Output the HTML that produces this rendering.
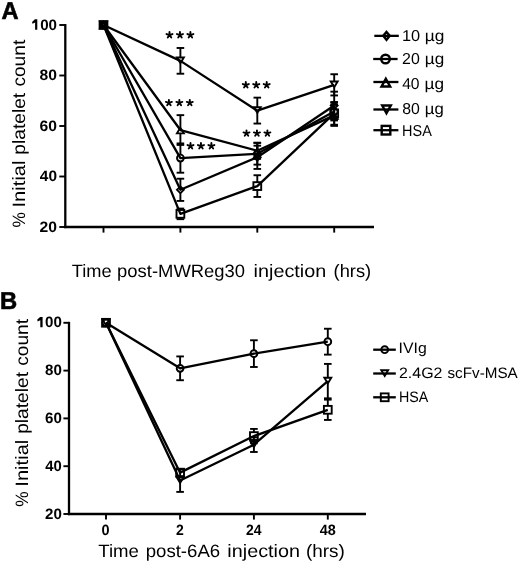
<!DOCTYPE html>
<html><head><meta charset="utf-8"><title>Platelet count chart</title>
<style>html,body{margin:0;padding:0;background:#fff;}body{width:520px;height:563px;overflow:hidden;}svg{display:block;will-change:transform;}text{font-family:"Liberation Sans",sans-serif;text-rendering:geometricPrecision;}</style>
</head><body>
<svg width="520" height="563" viewBox="0 0 520 563">
<rect width="520" height="563" fill="#fff"/>
<g stroke="#000" fill="none" stroke-linecap="butt">
<line x1="65.30" y1="24.05" x2="65.30" y2="228.15" stroke-width="2.3"/>
<line x1="64.15" y1="227.00" x2="374.00" y2="227.00" stroke-width="2.3"/>
<line x1="59.30" y1="25.00" x2="65.30" y2="25.00" stroke-width="1.9"/>
<line x1="59.30" y1="75.50" x2="65.30" y2="75.50" stroke-width="1.9"/>
<line x1="59.30" y1="126.00" x2="65.30" y2="126.00" stroke-width="1.9"/>
<line x1="59.30" y1="176.50" x2="65.30" y2="176.50" stroke-width="1.9"/>
<line x1="59.30" y1="227.00" x2="65.30" y2="227.00" stroke-width="1.9"/>
<line x1="103.50" y1="227.00" x2="103.50" y2="232.60" stroke-width="1.9"/>
<line x1="180.40" y1="227.00" x2="180.40" y2="232.60" stroke-width="1.9"/>
<line x1="257.30" y1="227.00" x2="257.30" y2="232.60" stroke-width="1.9"/>
<line x1="334.20" y1="227.00" x2="334.20" y2="232.60" stroke-width="1.9"/>
<line x1="69.00" y1="321.85" x2="69.00" y2="515.15" stroke-width="2.3"/>
<line x1="67.85" y1="514.00" x2="366.00" y2="514.00" stroke-width="2.3"/>
<line x1="63.40" y1="322.80" x2="69.00" y2="322.80" stroke-width="1.9"/>
<line x1="63.40" y1="370.60" x2="69.00" y2="370.60" stroke-width="1.9"/>
<line x1="63.40" y1="418.40" x2="69.00" y2="418.40" stroke-width="1.9"/>
<line x1="63.40" y1="466.20" x2="69.00" y2="466.20" stroke-width="1.9"/>
<line x1="63.40" y1="514.00" x2="69.00" y2="514.00" stroke-width="1.9"/>
<line x1="106.00" y1="514.00" x2="106.00" y2="519.60" stroke-width="1.9"/>
<line x1="180.10" y1="514.00" x2="180.10" y2="519.60" stroke-width="1.9"/>
<line x1="253.90" y1="514.00" x2="253.90" y2="519.60" stroke-width="1.9"/>
<line x1="327.80" y1="514.00" x2="327.80" y2="519.60" stroke-width="1.9"/>
<polyline points="103.50,25.00 180.40,189.81 257.30,157.31 334.20,105.55" fill="none" stroke-width="2.3" stroke-linejoin="round"/>
<polyline points="103.50,25.00 180.40,158.07 257.30,153.78 334.20,111.61" fill="none" stroke-width="2.3" stroke-linejoin="round"/>
<polyline points="103.50,25.00 180.40,130.04 257.30,150.75 334.20,115.39" fill="none" stroke-width="2.3" stroke-linejoin="round"/>
<polyline points="103.50,25.00 180.40,60.86 257.30,110.60 334.20,84.84" fill="none" stroke-width="2.3" stroke-linejoin="round"/>
<polyline points="103.50,25.00 180.40,213.87 257.30,186.09 334.20,113.38" fill="none" stroke-width="2.3" stroke-linejoin="round"/>
<line x1="180.40" y1="178.70" x2="180.40" y2="186.51" stroke-width="1.9"/>
<line x1="180.40" y1="193.11" x2="180.40" y2="200.92" stroke-width="1.9"/>
<line x1="176.60" y1="178.70" x2="184.20" y2="178.70" stroke-width="1.9"/>
<line x1="176.60" y1="200.92" x2="184.20" y2="200.92" stroke-width="1.9"/>
<line x1="257.30" y1="145.69" x2="257.30" y2="154.01" stroke-width="1.9"/>
<line x1="257.30" y1="160.61" x2="257.30" y2="168.93" stroke-width="1.9"/>
<line x1="253.50" y1="145.69" x2="261.10" y2="145.69" stroke-width="1.9"/>
<line x1="253.50" y1="168.93" x2="261.10" y2="168.93" stroke-width="1.9"/>
<line x1="334.20" y1="91.66" x2="334.20" y2="102.25" stroke-width="1.9"/>
<line x1="334.20" y1="108.85" x2="334.20" y2="119.44" stroke-width="1.9"/>
<line x1="330.40" y1="91.66" x2="338.00" y2="91.66" stroke-width="1.9"/>
<line x1="330.40" y1="119.44" x2="338.00" y2="119.44" stroke-width="1.9"/>
<line x1="180.40" y1="143.42" x2="180.40" y2="154.67" stroke-width="1.9"/>
<line x1="180.40" y1="161.47" x2="180.40" y2="172.71" stroke-width="1.9"/>
<line x1="176.60" y1="143.42" x2="184.20" y2="143.42" stroke-width="1.9"/>
<line x1="176.60" y1="172.71" x2="184.20" y2="172.71" stroke-width="1.9"/>
<line x1="257.30" y1="142.92" x2="257.30" y2="150.38" stroke-width="1.9"/>
<line x1="257.30" y1="157.18" x2="257.30" y2="164.63" stroke-width="1.9"/>
<line x1="253.50" y1="142.92" x2="261.10" y2="142.92" stroke-width="1.9"/>
<line x1="253.50" y1="164.63" x2="261.10" y2="164.63" stroke-width="1.9"/>
<line x1="334.20" y1="102.77" x2="334.20" y2="108.21" stroke-width="1.9"/>
<line x1="334.20" y1="115.01" x2="334.20" y2="120.45" stroke-width="1.9"/>
<line x1="330.40" y1="102.77" x2="338.00" y2="102.77" stroke-width="1.9"/>
<line x1="330.40" y1="120.45" x2="338.00" y2="120.45" stroke-width="1.9"/>
<line x1="180.40" y1="115.14" x2="180.40" y2="127.64" stroke-width="1.9"/>
<line x1="180.40" y1="133.34" x2="180.40" y2="144.94" stroke-width="1.9"/>
<line x1="176.60" y1="115.14" x2="184.20" y2="115.14" stroke-width="1.9"/>
<line x1="176.60" y1="144.94" x2="184.20" y2="144.94" stroke-width="1.9"/>
<line x1="257.30" y1="142.66" x2="257.30" y2="148.34" stroke-width="1.9"/>
<line x1="257.30" y1="154.05" x2="257.30" y2="158.83" stroke-width="1.9"/>
<line x1="253.50" y1="142.66" x2="261.10" y2="142.66" stroke-width="1.9"/>
<line x1="253.50" y1="158.83" x2="261.10" y2="158.83" stroke-width="1.9"/>
<line x1="334.20" y1="104.89" x2="334.20" y2="112.99" stroke-width="1.9"/>
<line x1="334.20" y1="118.69" x2="334.20" y2="125.90" stroke-width="1.9"/>
<line x1="330.40" y1="104.89" x2="338.00" y2="104.89" stroke-width="1.9"/>
<line x1="330.40" y1="125.90" x2="338.00" y2="125.90" stroke-width="1.9"/>
<line x1="180.40" y1="47.98" x2="180.40" y2="57.56" stroke-width="1.9"/>
<line x1="180.40" y1="63.26" x2="180.40" y2="73.73" stroke-width="1.9"/>
<line x1="176.60" y1="47.98" x2="184.20" y2="47.98" stroke-width="1.9"/>
<line x1="176.60" y1="73.73" x2="184.20" y2="73.73" stroke-width="1.9"/>
<line x1="257.30" y1="97.64" x2="257.30" y2="107.30" stroke-width="1.9"/>
<line x1="257.30" y1="113.00" x2="257.30" y2="123.55" stroke-width="1.9"/>
<line x1="253.50" y1="97.64" x2="261.10" y2="97.64" stroke-width="1.9"/>
<line x1="253.50" y1="123.55" x2="261.10" y2="123.55" stroke-width="1.9"/>
<line x1="334.20" y1="74.24" x2="334.20" y2="81.54" stroke-width="1.9"/>
<line x1="334.20" y1="87.24" x2="334.20" y2="95.45" stroke-width="1.9"/>
<line x1="330.40" y1="74.24" x2="338.00" y2="74.24" stroke-width="1.9"/>
<line x1="330.40" y1="95.45" x2="338.00" y2="95.45" stroke-width="1.9"/>
<line x1="180.40" y1="208.57" x2="180.40" y2="209.97" stroke-width="1.9"/>
<line x1="180.40" y1="217.77" x2="180.40" y2="219.17" stroke-width="1.9"/>
<line x1="176.60" y1="208.57" x2="184.20" y2="208.57" stroke-width="1.9"/>
<line x1="176.60" y1="219.17" x2="184.20" y2="219.17" stroke-width="1.9"/>
<line x1="257.30" y1="175.24" x2="257.30" y2="182.19" stroke-width="1.9"/>
<line x1="257.30" y1="190.00" x2="257.30" y2="196.95" stroke-width="1.9"/>
<line x1="253.50" y1="175.24" x2="261.10" y2="175.24" stroke-width="1.9"/>
<line x1="253.50" y1="196.95" x2="261.10" y2="196.95" stroke-width="1.9"/>
<line x1="334.20" y1="102.01" x2="334.20" y2="109.47" stroke-width="1.9"/>
<line x1="334.20" y1="117.28" x2="334.20" y2="124.74" stroke-width="1.9"/>
<line x1="330.40" y1="102.01" x2="338.00" y2="102.01" stroke-width="1.9"/>
<line x1="330.40" y1="124.74" x2="338.00" y2="124.74" stroke-width="1.9"/>
<polygon points="103.50,21.70 106.90,25.00 103.50,28.30 100.10,25.00" fill="none" stroke-width="1.9"/>
<polygon points="180.40,186.51 183.80,189.81 180.40,193.11 177.00,189.81" fill="none" stroke-width="1.9"/>
<polygon points="257.30,154.01 260.70,157.31 257.30,160.61 253.90,157.31" fill="none" stroke-width="1.9"/>
<polygon points="334.20,102.25 337.60,105.55 334.20,108.85 330.80,105.55" fill="none" stroke-width="1.9"/>
<circle cx="103.50" cy="25.00" r="3.40" fill="none" stroke-width="1.9"/>
<circle cx="180.40" cy="158.07" r="3.40" fill="none" stroke-width="1.9"/>
<circle cx="257.30" cy="153.78" r="3.40" fill="none" stroke-width="1.9"/>
<circle cx="334.20" cy="111.61" r="3.40" fill="none" stroke-width="1.9"/>
<polygon points="103.50,22.59 106.94,28.30 100.06,28.30" fill="none" stroke-width="1.9"/>
<polygon points="180.40,127.63 183.84,133.34 176.96,133.34" fill="none" stroke-width="1.9"/>
<polygon points="257.30,148.34 260.74,154.05 253.86,154.05" fill="none" stroke-width="1.9"/>
<polygon points="334.20,112.98 337.64,118.69 330.76,118.69" fill="none" stroke-width="1.9"/>
<polygon points="103.50,27.41 106.94,21.70 100.06,21.70" fill="none" stroke-width="1.9"/>
<polygon points="180.40,63.27 183.84,57.56 176.96,57.56" fill="none" stroke-width="1.9"/>
<polygon points="257.30,113.01 260.74,107.30 253.86,107.30" fill="none" stroke-width="1.9"/>
<polygon points="334.20,87.25 337.64,81.54 330.76,81.54" fill="none" stroke-width="1.9"/>
<rect x="99.60" y="21.10" width="7.80" height="7.80" fill="none" stroke-width="1.9"/>
<rect x="176.50" y="209.97" width="7.80" height="7.80" fill="none" stroke-width="1.9"/>
<rect x="253.40" y="182.19" width="7.80" height="7.80" fill="none" stroke-width="1.9"/>
<rect x="330.30" y="109.47" width="7.80" height="7.80" fill="none" stroke-width="1.9"/>
</g><g fill="none" stroke="#000">
<path d="M169.50,35.00L169.50,32.05M169.50,35.00L172.50,34.05M169.50,35.00L166.50,34.05M169.50,35.00L171.25,37.45M169.50,35.00L167.75,37.45" stroke-width="1.9" stroke-linecap="round" fill="none"/>
<path d="M179.95,35.00L179.95,32.05M179.95,35.00L182.95,34.05M179.95,35.00L176.95,34.05M179.95,35.00L181.70,37.45M179.95,35.00L178.20,37.45" stroke-width="1.9" stroke-linecap="round" fill="none"/>
<path d="M190.40,35.00L190.40,32.05M190.40,35.00L193.40,34.05M190.40,35.00L187.40,34.05M190.40,35.00L192.15,37.45M190.40,35.00L188.65,37.45" stroke-width="1.9" stroke-linecap="round" fill="none"/>
<path d="M168.90,102.80L168.90,99.85M168.90,102.80L171.90,101.85M168.90,102.80L165.90,101.85M168.90,102.80L170.65,105.25M168.90,102.80L167.15,105.25" stroke-width="1.9" stroke-linecap="round" fill="none"/>
<path d="M179.35,102.80L179.35,99.85M179.35,102.80L182.35,101.85M179.35,102.80L176.35,101.85M179.35,102.80L181.10,105.25M179.35,102.80L177.60,105.25" stroke-width="1.9" stroke-linecap="round" fill="none"/>
<path d="M189.80,102.80L189.80,99.85M189.80,102.80L192.80,101.85M189.80,102.80L186.80,101.85M189.80,102.80L191.55,105.25M189.80,102.80L188.05,105.25" stroke-width="1.9" stroke-linecap="round" fill="none"/>
<path d="M190.50,146.00L190.50,143.05M190.50,146.00L193.50,145.05M190.50,146.00L187.50,145.05M190.50,146.00L192.25,148.45M190.50,146.00L188.75,148.45" stroke-width="1.9" stroke-linecap="round" fill="none"/>
<path d="M200.95,146.00L200.95,143.05M200.95,146.00L203.95,145.05M200.95,146.00L197.95,145.05M200.95,146.00L202.70,148.45M200.95,146.00L199.20,148.45" stroke-width="1.9" stroke-linecap="round" fill="none"/>
<path d="M211.40,146.00L211.40,143.05M211.40,146.00L214.40,145.05M211.40,146.00L208.40,145.05M211.40,146.00L213.15,148.45M211.40,146.00L209.65,148.45" stroke-width="1.9" stroke-linecap="round" fill="none"/>
<path d="M245.80,85.00L245.80,82.05M245.80,85.00L248.80,84.05M245.80,85.00L242.80,84.05M245.80,85.00L247.55,87.45M245.80,85.00L244.05,87.45" stroke-width="1.9" stroke-linecap="round" fill="none"/>
<path d="M256.25,85.00L256.25,82.05M256.25,85.00L259.25,84.05M256.25,85.00L253.25,84.05M256.25,85.00L258.00,87.45M256.25,85.00L254.50,87.45" stroke-width="1.9" stroke-linecap="round" fill="none"/>
<path d="M266.70,85.00L266.70,82.05M266.70,85.00L269.70,84.05M266.70,85.00L263.70,84.05M266.70,85.00L268.45,87.45M266.70,85.00L264.95,87.45" stroke-width="1.9" stroke-linecap="round" fill="none"/>
<path d="M246.50,133.30L246.50,130.35M246.50,133.30L249.50,132.35M246.50,133.30L243.50,132.35M246.50,133.30L248.25,135.75M246.50,133.30L244.75,135.75" stroke-width="1.9" stroke-linecap="round" fill="none"/>
<path d="M256.95,133.30L256.95,130.35M256.95,133.30L259.95,132.35M256.95,133.30L253.95,132.35M256.95,133.30L258.70,135.75M256.95,133.30L255.20,135.75" stroke-width="1.9" stroke-linecap="round" fill="none"/>
<path d="M267.40,133.30L267.40,130.35M267.40,133.30L270.40,132.35M267.40,133.30L264.40,132.35M267.40,133.30L269.15,135.75M267.40,133.30L265.65,135.75" stroke-width="1.9" stroke-linecap="round" fill="none"/>
</g><g stroke="#000" fill="none">
<polyline points="106.00,322.80 180.10,368.33 253.90,353.63 327.80,341.68" fill="none" stroke-width="2.3" stroke-linejoin="round"/>
<polyline points="106.00,322.80 180.10,480.54 253.90,444.69 327.80,381.12" fill="none" stroke-width="2.3" stroke-linejoin="round"/>
<polyline points="106.00,322.80 180.10,472.65 253.90,436.09 327.80,409.80" fill="none" stroke-width="2.3" stroke-linejoin="round"/>
<line x1="180.10" y1="356.43" x2="180.10" y2="364.93" stroke-width="1.9"/>
<line x1="180.10" y1="371.73" x2="180.10" y2="380.23" stroke-width="1.9"/>
<line x1="176.30" y1="356.43" x2="183.90" y2="356.43" stroke-width="1.9"/>
<line x1="176.30" y1="380.23" x2="183.90" y2="380.23" stroke-width="1.9"/>
<line x1="253.90" y1="340.27" x2="253.90" y2="350.23" stroke-width="1.9"/>
<line x1="253.90" y1="357.03" x2="253.90" y2="366.99" stroke-width="1.9"/>
<line x1="250.10" y1="340.27" x2="257.70" y2="340.27" stroke-width="1.9"/>
<line x1="250.10" y1="366.99" x2="257.70" y2="366.99" stroke-width="1.9"/>
<line x1="327.80" y1="328.73" x2="327.80" y2="338.28" stroke-width="1.9"/>
<line x1="327.80" y1="345.08" x2="327.80" y2="354.63" stroke-width="1.9"/>
<line x1="324.00" y1="328.73" x2="331.60" y2="328.73" stroke-width="1.9"/>
<line x1="324.00" y1="354.63" x2="331.60" y2="354.63" stroke-width="1.9"/>
<line x1="180.10" y1="469.19" x2="180.10" y2="477.24" stroke-width="1.9"/>
<line x1="180.10" y1="482.94" x2="180.10" y2="491.89" stroke-width="1.9"/>
<line x1="176.30" y1="469.19" x2="183.90" y2="469.19" stroke-width="1.9"/>
<line x1="176.30" y1="491.89" x2="183.90" y2="491.89" stroke-width="1.9"/>
<line x1="253.90" y1="437.40" x2="253.90" y2="441.39" stroke-width="1.9"/>
<line x1="253.90" y1="447.09" x2="253.90" y2="451.98" stroke-width="1.9"/>
<line x1="250.10" y1="437.40" x2="257.70" y2="437.40" stroke-width="1.9"/>
<line x1="250.10" y1="451.98" x2="257.70" y2="451.98" stroke-width="1.9"/>
<line x1="327.80" y1="363.91" x2="327.80" y2="377.82" stroke-width="1.9"/>
<line x1="327.80" y1="383.52" x2="327.80" y2="398.32" stroke-width="1.9"/>
<line x1="324.00" y1="363.91" x2="331.60" y2="363.91" stroke-width="1.9"/>
<line x1="324.00" y1="398.32" x2="331.60" y2="398.32" stroke-width="1.9"/>
<line x1="176.30" y1="469.07" x2="183.90" y2="469.07" stroke-width="1.9"/>
<line x1="176.30" y1="476.24" x2="183.90" y2="476.24" stroke-width="1.9"/>
<line x1="253.90" y1="428.92" x2="253.90" y2="432.19" stroke-width="1.9"/>
<line x1="253.90" y1="439.99" x2="253.90" y2="443.26" stroke-width="1.9"/>
<line x1="250.10" y1="428.92" x2="257.70" y2="428.92" stroke-width="1.9"/>
<line x1="250.10" y1="443.26" x2="257.70" y2="443.26" stroke-width="1.9"/>
<line x1="327.80" y1="399.64" x2="327.80" y2="405.90" stroke-width="1.9"/>
<line x1="327.80" y1="413.70" x2="327.80" y2="419.95" stroke-width="1.9"/>
<line x1="324.00" y1="399.64" x2="331.60" y2="399.64" stroke-width="1.9"/>
<line x1="324.00" y1="419.95" x2="331.60" y2="419.95" stroke-width="1.9"/>
<circle cx="106.00" cy="322.80" r="3.40" fill="none" stroke-width="1.9"/>
<circle cx="180.10" cy="368.33" r="3.40" fill="none" stroke-width="1.9"/>
<circle cx="253.90" cy="353.63" r="3.40" fill="none" stroke-width="1.9"/>
<circle cx="327.80" cy="341.68" r="3.40" fill="none" stroke-width="1.9"/>
<polygon points="106.00,325.21 109.44,319.50 102.56,319.50" fill="none" stroke-width="1.9"/>
<polygon points="180.10,482.95 183.54,477.24 176.66,477.24" fill="none" stroke-width="1.9"/>
<polygon points="253.90,447.10 257.34,441.39 250.46,441.39" fill="none" stroke-width="1.9"/>
<polygon points="327.80,383.53 331.24,377.82 324.36,377.82" fill="none" stroke-width="1.9"/>
<rect x="102.10" y="318.90" width="7.80" height="7.80" fill="none" stroke-width="1.9"/>
<rect x="176.20" y="468.75" width="7.80" height="7.80" fill="none" stroke-width="1.9"/>
<rect x="250.00" y="432.19" width="7.80" height="7.80" fill="none" stroke-width="1.9"/>
<rect x="323.90" y="405.90" width="7.80" height="7.80" fill="none" stroke-width="1.9"/>
<line x1="374.30" y1="35.85" x2="398.80" y2="35.85" stroke-width="2.3"/>
<polygon points="386.50,31.89 389.75,35.85 386.50,39.81 383.25,35.85" fill="none" stroke-width="2.4"/>
<line x1="373.20" y1="59.00" x2="397.60" y2="59.00" stroke-width="2.3"/>
<circle cx="385.50" cy="59.00" r="4.30" fill="none" stroke-width="2.4"/>
<line x1="373.40" y1="82.00" x2="398.40" y2="82.00" stroke-width="2.3"/>
<polygon points="385.85,78.80 390.17,86.45 381.53,86.45" fill="none" stroke-width="2.4"/>
<line x1="373.40" y1="109.50" x2="398.40" y2="109.50" stroke-width="2.3"/>
<polygon points="386.50,113.20 390.82,105.55 382.18,105.55" fill="none" stroke-width="2.4"/>
<line x1="373.40" y1="130.20" x2="398.40" y2="130.20" stroke-width="2.3"/>
<rect x="381.70" y="125.90" width="8.60" height="8.60" fill="none" stroke-width="2.4"/>
<line x1="373.20" y1="349.70" x2="395.80" y2="349.70" stroke-width="2.3"/>
<circle cx="384.70" cy="349.70" r="3.40" fill="none" stroke-width="1.9"/>
<line x1="373.20" y1="373.50" x2="395.80" y2="373.50" stroke-width="2.3"/>
<polygon points="384.70,375.91 388.14,370.20 381.26,370.20" fill="none" stroke-width="1.9"/>
<line x1="373.20" y1="397.30" x2="395.80" y2="397.30" stroke-width="2.3"/>
<rect x="380.80" y="393.40" width="7.80" height="7.80" fill="none" stroke-width="1.9"/>
</g>
<g font-family="Liberation Sans, sans-serif" fill="#000">
<polygon points="34.90,19.30 37.30,19.30 37.30,29.80 35.10,29.80 35.10,22.60 32.40,23.70 32.10,21.90" fill="#000"/>
<polygon points="40.10,316.90 42.60,316.90 42.60,327.30 40.30,327.30 40.30,320.20 37.60,321.40 37.30,319.60" fill="#000"/>
<text x="1.42" y="19.10" font-size="24.4" font-weight="bold" textLength="17.08" lengthAdjust="spacingAndGlyphs" stroke="#000" stroke-width="0.6">A</text>
<text x="-0.01" y="309.40" font-size="24.4" font-weight="bold" textLength="17.21" lengthAdjust="spacingAndGlyphs" stroke="#000" stroke-width="0.6">B</text>
<text x="40.2" y="30.00" font-size="15.05" font-weight="bold" textLength="16.86" lengthAdjust="spacingAndGlyphs">00</text>
<text x="39.63" y="80.00" font-size="15.05" font-weight="bold" textLength="17.45" lengthAdjust="spacingAndGlyphs">80</text>
<text x="39.63" y="131.00" font-size="15.05" font-weight="bold" textLength="17.45" lengthAdjust="spacingAndGlyphs">60</text>
<text x="39.89" y="181.00" font-size="15.05" font-weight="bold" textLength="17.18" lengthAdjust="spacingAndGlyphs">40</text>
<text x="39.63" y="232.00" font-size="15.05" font-weight="bold" textLength="17.45" lengthAdjust="spacingAndGlyphs">20</text>
<text x="45.0" y="327.00" font-size="15.0" font-weight="bold" textLength="16.8" lengthAdjust="spacingAndGlyphs">00</text>
<text x="45.0" y="375.00" font-size="15.0" font-weight="bold" textLength="16.8" lengthAdjust="spacingAndGlyphs">80</text>
<text x="45.0" y="423.00" font-size="15.0" font-weight="bold" textLength="16.8" lengthAdjust="spacingAndGlyphs">60</text>
<text x="45.25" y="471.00" font-size="15.0" font-weight="bold" textLength="16.53" lengthAdjust="spacingAndGlyphs">40</text>
<text x="45.0" y="519.00" font-size="15.0" font-weight="bold" textLength="16.8" lengthAdjust="spacingAndGlyphs">20</text>
<text x="101.56" y="534.80" font-size="14.9" font-weight="bold" textLength="8.07" lengthAdjust="spacingAndGlyphs">0</text>
<text x="176.03" y="534.80" font-size="14.9" font-weight="bold" textLength="7.78" lengthAdjust="spacingAndGlyphs">2</text>
<text x="245.93" y="534.80" font-size="14.9" font-weight="bold" textLength="15.54" lengthAdjust="spacingAndGlyphs">24</text>
<text x="319.66" y="534.80" font-size="14.9" font-weight="bold" textLength="16.06" lengthAdjust="spacingAndGlyphs">48</text>
<text x="71.69" y="277.1" font-size="17.9" textLength="39.87" lengthAdjust="spacingAndGlyphs" >Time</text>
<text x="117.11" y="277.1" font-size="17.9" textLength="127.91" lengthAdjust="spacingAndGlyphs" >post-MWReg30</text>
<text x="253.62" y="277.1" font-size="17.9" textLength="72.65" lengthAdjust="spacingAndGlyphs" >injection</text>
<text x="333.58" y="277.1" font-size="17.9" textLength="37.58" lengthAdjust="spacingAndGlyphs" >(hrs)</text>
<text x="98.23" y="556.9" font-size="17.9" textLength="40.65" lengthAdjust="spacingAndGlyphs" >Time</text>
<text x="145.7" y="556.9" font-size="17.9" textLength="74.49" lengthAdjust="spacingAndGlyphs" >post-6A6</text>
<text x="227.37" y="556.9" font-size="17.9" textLength="72.65" lengthAdjust="spacingAndGlyphs" >injection</text>
<text x="305.94" y="556.9" font-size="17.9" textLength="38.9" lengthAdjust="spacingAndGlyphs" >(hrs)</text>
<text transform="translate(24.7,226.8) rotate(-90)" x="-0.72" y="0" font-size="17.9" textLength="15.37" lengthAdjust="spacingAndGlyphs" >%</text>
<text transform="translate(24.7,226.8) rotate(-90)" x="19.33" y="0" font-size="17.9" textLength="46.99" lengthAdjust="spacingAndGlyphs" >Initial</text>
<text transform="translate(24.7,226.8) rotate(-90)" x="72.16" y="0" font-size="17.9" textLength="61.86" lengthAdjust="spacingAndGlyphs" >platelet</text>
<text transform="translate(24.7,226.8) rotate(-90)" x="140.2" y="0" font-size="17.9" textLength="46.84" lengthAdjust="spacingAndGlyphs" >count</text>
<text transform="translate(27.8,506.0) rotate(-90)" x="-0.72" y="0" font-size="17.9" textLength="15.37" lengthAdjust="spacingAndGlyphs" >%</text>
<text transform="translate(27.8,506.0) rotate(-90)" x="19.33" y="0" font-size="17.9" textLength="46.99" lengthAdjust="spacingAndGlyphs" >Initial</text>
<text transform="translate(27.8,506.0) rotate(-90)" x="72.16" y="0" font-size="17.9" textLength="61.86" lengthAdjust="spacingAndGlyphs" >platelet</text>
<text transform="translate(27.8,506.0) rotate(-90)" x="140.2" y="0" font-size="17.9" textLength="46.84" lengthAdjust="spacingAndGlyphs" >count</text>
<text x="402.01" y="41.4" font-size="15.8" textLength="18.19" lengthAdjust="spacingAndGlyphs" >10</text>
<text x="424.8" y="41.4" font-size="15.8" textLength="19.65" lengthAdjust="spacingAndGlyphs" >µg</text>
<text x="402.04" y="63.9" font-size="15.8" textLength="17.74" lengthAdjust="spacingAndGlyphs" >20</text>
<text x="424.81" y="63.9" font-size="15.8" textLength="19.42" lengthAdjust="spacingAndGlyphs" >µg</text>
<text x="402.15" y="88.6" font-size="15.8" textLength="17.42" lengthAdjust="spacingAndGlyphs" >40</text>
<text x="424.51" y="88.6" font-size="15.8" textLength="19.54" lengthAdjust="spacingAndGlyphs" >µg</text>
<text x="402.25" y="114.2" font-size="15.8" textLength="17.63" lengthAdjust="spacingAndGlyphs" >80</text>
<text x="424.74" y="114.2" font-size="15.8" textLength="18.97" lengthAdjust="spacingAndGlyphs" >µg</text>
<text x="402.06" y="135.9" font-size="15.8" textLength="29.73" lengthAdjust="spacingAndGlyphs" >HSA</text>
<text x="398.63" y="352.7" font-size="15.1" textLength="28.13" lengthAdjust="spacingAndGlyphs" >IVIg</text>
<text x="399.01" y="378.3" font-size="15.1" textLength="43.45" lengthAdjust="spacingAndGlyphs" >2.4G2</text>
<text x="447.5" y="378.3" font-size="15.1" textLength="70.21" lengthAdjust="spacingAndGlyphs" >scFv-MSA</text>
<text x="399.02" y="402.3" font-size="15.1" textLength="29.32" lengthAdjust="spacingAndGlyphs" >HSA</text>
</g>
</svg>
</body></html>
